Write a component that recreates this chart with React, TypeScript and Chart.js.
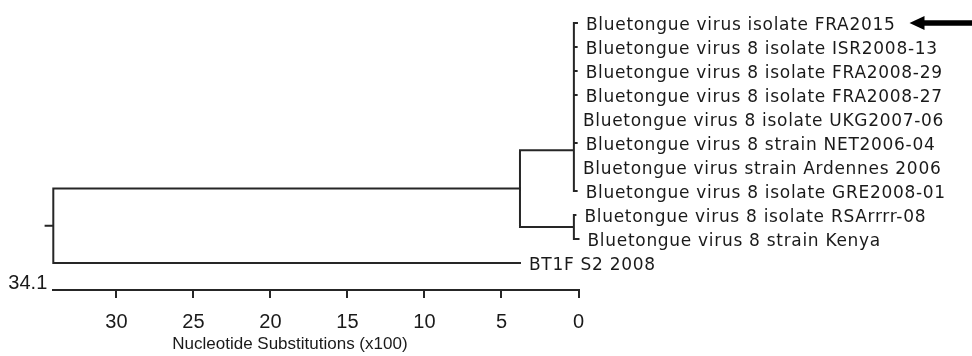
import React, { useEffect, useRef } from "react";
import { Chart, registerables } from "chart.js";

Chart.register(...registerables);

const leafNames = [
  "Bluetongue virus isolate FRA2015",
  "Bluetongue virus 8 isolate ISR2008-13",
  "Bluetongue virus 8 isolate FRA2008-29",
  "Bluetongue virus 8 isolate FRA2008-27",
  "Bluetongue virus 8 isolate UKG2007-06",
  "Bluetongue virus 8 strain NET2006-04",
  "Bluetongue virus strain Ardennes 2006",
  "Bluetongue virus 8 isolate GRE2008-01",
  "Bluetongue virus 8 isolate RSArrrr-08",
  "Bluetongue virus 8 strain Kenya",
  "BT1F S2 2008",
];
// distance of each leaf tip from the right end (0) of the scale, x100 substitutions
const leafDistance = [0.1, 0.12, 0.12, 0.12, 0.3, 0.12, 0.3, 0.12, 0.2, 0.0, 3.8];
// clades (leaf indices)
const cladeC = [0, 1, 2, 3, 4, 5, 6, 7];
const cladeD = [8, 9];
const outgroupLeaf = 10;
// internal node distances
const rootDistance = 34.1;
const nodeBDistance = 3.8;
const cladeCDistance = 0.3;
const cladeDDistance = 0.3;
const rootStubLength = 0.5;
const cladeCRow = 5.3;
// axis
const xTickValues = [0, 5, 10, 15, 20, 25, 30];
const axisTitle = "Nucleotide Substitutions (x100)";

type P = { x: number; y: number };

function buildTree(): P[] {
  const pts: P[] = [];
  const gap = () => pts.push({ x: NaN, y: NaN });
  const line = (a: P[]) => {
    a.forEach((p) => pts.push(p));
    gap();
  };
  const clade = (leaves: number[], nodeX: number) => {
    const first = leaves[0];
    const last = leaves[leaves.length - 1];
    line([
      { x: leafDistance[first], y: first },
      { x: nodeX, y: first },
      { x: nodeX, y: last },
      { x: leafDistance[last], y: last },
    ]);
    leaves.slice(1, -1).forEach((i) =>
      line([
        { x: nodeX, y: i },
        { x: leafDistance[i], y: i },
      ])
    );
  };
  clade(cladeC, cladeCDistance);
  clade(cladeD, cladeDDistance);
  const cRow = cladeCRow;
  const dRow = (cladeD[0] + cladeD[cladeD.length - 1]) / 2;
  line([
    { x: cladeCDistance, y: cRow },
    { x: nodeBDistance, y: cRow },
    { x: nodeBDistance, y: dRow },
    { x: cladeDDistance, y: dRow },
  ]);
  const bRow = (cRow + dRow) / 2;
  line([
    { x: nodeBDistance, y: bRow },
    { x: rootDistance, y: bRow },
    { x: rootDistance, y: outgroupLeaf },
    { x: leafDistance[outgroupLeaf], y: outgroupLeaf },
  ]);
  const rootRow = (bRow + outgroupLeaf) / 2;
  line([
    { x: rootDistance, y: rootRow },
    { x: rootDistance + rootStubLength, y: rootRow },
  ]);
  return pts;
}

const INK = "#262626";
const LABEL_FONT = '17px "DejaVu Sans", Verdana, sans-serif';

const treePlugin = {
  id: "treeLabels",
  afterDraw(chart: any) {
    const { ctx, chartArea } = chart;
    const x = chart.scales.x;
    const y = chart.scales.y;
    ctx.save();
    ctx.fillStyle = "#1a1a1a";
    ctx.font = LABEL_FONT;
    try {
      (ctx as any).letterSpacing = "0.7px";
    } catch (e) {}
    ctx.textAlign = "left";
    ctx.textBaseline = "alphabetic";
    let firstEnd = 0;
    leafNames.forEach((name, i) => {
      const px = x.getPixelForValue(leafDistance[i]) + 9;
      const py = y.getPixelForValue(i) + 7;
      ctx.fillText(name, px, py);
      if (i === 0) firstEnd = px + ctx.measureText(name).width;
    });
    try {
      (ctx as any).letterSpacing = "0px";
    } catch (e) {}

    // root end label of the scale
    ctx.font = '20px "Liberation Sans", Arial, sans-serif';
    ctx.textAlign = "right";
    ctx.fillText(rootDistance.toFixed(1), x.getPixelForValue(rootDistance) - 6, chartArea.bottom - 1);

    // axis title
    ctx.font = '17px "Liberation Sans", Arial, sans-serif';
    ctx.textAlign = "center";
    ctx.textBaseline = "middle";
    ctx.fillText(axisTitle, (chartArea.left + chartArea.right) / 2 - 26, 344);

    // arrow pointing at the first isolate
    const cy = y.getPixelForValue(0);
    const tip = firstEnd + 14;
    const right = chart.width;
    ctx.fillStyle = "#000";
    ctx.beginPath();
    ctx.moveTo(tip, cy);
    ctx.lineTo(tip + 15, cy - 7);
    ctx.lineTo(tip + 15, cy - 2.8);
    ctx.lineTo(right, cy - 2.8);
    ctx.lineTo(right, cy + 2.8);
    ctx.lineTo(tip + 15, cy + 2.8);
    ctx.lineTo(tip + 15, cy + 7);
    ctx.closePath();
    ctx.fill();
    ctx.restore();
  },
};

export default function App() {
  const ref = useRef<HTMLCanvasElement | null>(null);
  useEffect(() => {
    document.body.style.margin = "0";
    const canvas = ref.current;
    if (!canvas) return;
    const chart = new Chart(canvas, {
      type: "scatter",
      data: {
        datasets: [
          {
            data: buildTree(),
            showLine: true,
            spanGaps: false,
            borderColor: INK,
            borderWidth: 2,
            borderCapStyle: "square",
            borderJoinStyle: "miter",
            pointRadius: 0,
            pointHoverRadius: 0,
            clip: false,
          } as any,
        ],
      },
      options: {
        animation: false,
        responsive: false,
        events: [],
        layout: { padding: { left: 53.3, right: 393.5, top: 11, bottom: 0 } },
        plugins: { legend: { display: false }, tooltip: { enabled: false } },
        scales: {
          x: {
            type: "linear",
            reverse: true,
            min: 0,
            max: rootDistance,
            afterFit: (s: any) => {
              s.height = 66;
            },
            afterBuildTicks: (s: any) => {
              s.ticks = xTickValues.map((v) => ({ value: v }));
            },
            ticks: {
              includeBounds: false,
              padding: 12,
              color: "#1a1a1a",
              font: { family: '"Liberation Sans", Arial, sans-serif', size: 20 },
              maxRotation: 0,
              callback: (v: any) => String(v),
            },
            grid: {
              drawOnChartArea: false,
              drawTicks: true,
              tickLength: 8,
              color: INK,
              lineWidth: 2,
            },
            border: { display: true, color: INK, width: 2 },
            title: { display: false },
          },
          y: {
            type: "linear",
            display: false,
            reverse: true,
            min: -0.5,
            max: 11.125,
          },
        },
      },
      plugins: [treePlugin],
    });
    return () => chart.destroy();
  }, []);
  return (
    <div style={{ width: 972, height: 356 }}>
      <canvas ref={ref} width={972} height={356} style={{ display: "block" }} />
    </div>
  );
}
